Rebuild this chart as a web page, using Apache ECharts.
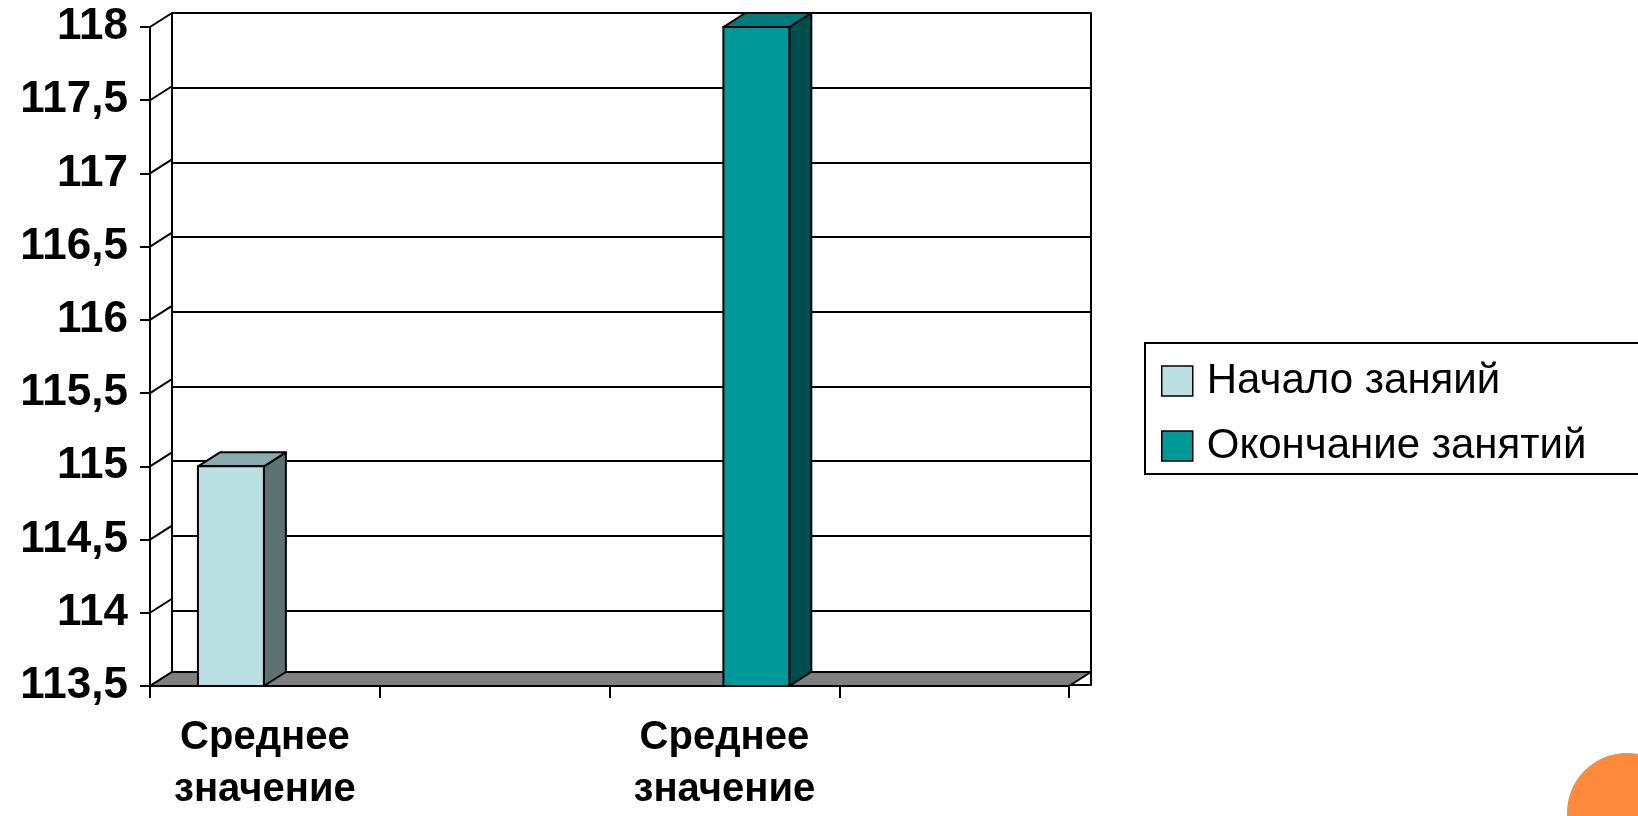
<!DOCTYPE html>
<html>
<head>
<meta charset="utf-8">
<script src="https://cdn.jsdelivr.net/npm/echarts@6/dist/echarts.min.js"></script>
<style>
html,body{margin:0;padding:0;background:#fff;}
#chart{width:1638px;height:816px;}
</style>
</head>
<body>
<div id="chart"></div>
<script>
// ---- data ----
const categories = ['Среднее значение', 'Среднее значение', 'Среднее значение', 'Среднее значение'];
const seriesNames = ['Начало заняий', 'Окончание занятий'];
const startValues = [115, null, null, null];
const endValues = [null, null, 118, null];
const yTicks = [113.5, 114, 114.5, 115, 115.5, 116, 116.5, 117, 117.5, 118];
const Y_MIN = 113.5, Y_MAX = 118, Y_STEP = 0.5;

// ---- style constants ----
const DX = 22, DY = -14;          // 3D depth offset
const BAR_RATIO = 0.287;          // bar width relative to category band
const FONT = "'Liberation Sans', Arial, sans-serif";
const styles = [
  {front: '#BBE0E3', side: '#5E7173', top: '#8AABAE'},
  {front: '#009999', side: '#004D4D', top: '#007A7A'}
];

function toData(arr) {
  const out = [];
  arr.forEach((v, i) => { if (v !== null) out.push([i, v]); });
  return out;
}

function barRenderer(sty, side) {
  return function (params, api) {
    const cat = api.value(0), v = api.value(1);
    const p = api.coord([cat, v]);
    const b = api.coord([cat, Y_MIN]);
    const band = api.size([1, 0])[0];
    const w = band * BAR_RATIO;
    const x0 = side < 0 ? p[0] - w - 1 : p[0] - 1;
    const x1 = x0 + w;
    const yt = p[1], yb = b[1];
    const st = {stroke: '#000', lineWidth: 2, lineJoin: 'round'};
    return {
      type: 'group',
      children: [
        {type: 'polygon', shape: {points: [[x1, yt], [x1 + DX, yt + DY], [x1 + DX, yb + DY], [x1, yb]]},
          style: Object.assign({fill: sty.side}, st)},
        {type: 'polygon', shape: {points: [[x0, yt], [x0 + DX, yt + DY], [x1 + DX, yt + DY], [x1, yt]]},
          style: Object.assign({fill: sty.top}, st)},
        {type: 'rect', shape: {x: x0, y: yt, width: w, height: yb - yt},
          style: Object.assign({fill: sty.front}, st)}
      ]
    };
  };
}

function floorRenderer(params, api) {
  const cs = params.coordSys;
  const xl = cs.x, xr = cs.x + cs.width;
  const yb = api.coord([0, Y_MIN])[1];
  const children = [];
  yTicks.forEach(t => {
    const y = api.coord([0, t])[1];
    children.push({type: 'line', shape: {x1: xl, y1: y, x2: xl + DX, y2: y + DY},
      style: {stroke: '#000', lineWidth: 2}});
  });
  children.push({type: 'polygon',
    shape: {points: [[xl, yb], [xl + DX, yb + DY], [xr + DX, yb + DY], [xr, yb]]},
    style: {fill: '#808080', stroke: '#000', lineWidth: 2, lineJoin: 'round'}});
  return {type: 'group', children};
}

const chart = echarts.init(document.getElementById('chart'), null, {renderer: 'canvas'});
const option = {
  backgroundColor: '#fff',
  animation: false,
  grid: [
    {left: 150, right: 569, top: 27, bottom: 117, containLabel: false},
    {left: 172, right: 547, top: 13, bottom: 131, containLabel: false}
  ],
  xAxis: [
    {
      type: 'category', gridIndex: 0, data: categories, boundaryGap: true,
      axisLine: {show: true, lineStyle: {color: '#000', width: 2}},
      axisTick: {show: true, interval: 0, length: 12, lineStyle: {color: '#000', width: 2}},
      axisLabel: {
        interval: 1, margin: 26, color: '#000', fontSize: 40, fontWeight: 'bold',
        fontFamily: FONT, lineHeight: 52,
        formatter: v => v.replace(' ', '\n')
      },
      splitLine: {show: false}
    },
    {type: 'category', gridIndex: 1, data: categories, show: false}
  ],
  yAxis: [
    {
      type: 'value', gridIndex: 0, min: Y_MIN, max: Y_MAX, interval: Y_STEP,
      axisLine: {show: true, lineStyle: {color: '#000', width: 2}},
      axisTick: {show: true, length: 10, lineStyle: {color: '#000', width: 2}},
      axisLabel: {
        margin: 22, color: '#000', fontSize: 44, fontWeight: 'bold', fontFamily: FONT,
        formatter: v => String(v).replace('.', ',')
      },
      splitLine: {show: false}
    },
    {
      type: 'value', gridIndex: 1, min: Y_MIN, max: Y_MAX, interval: Y_STEP,
      axisLine: {show: true, lineStyle: {color: '#000', width: 2}},
      axisTick: {show: false}, axisLabel: {show: false},
      splitLine: {show: true, lineStyle: {color: '#000', width: 2}}
    },
    {
      type: 'value', gridIndex: 1, position: 'right', min: Y_MIN, max: Y_MAX, interval: Y_STEP,
      axisLine: {show: true, lineStyle: {color: '#000', width: 2}},
      axisTick: {show: false}, axisLabel: {show: false}, splitLine: {show: false}
    }
  ],
  legend: {
    orient: 'vertical', left: 1145, top: 343,
    itemWidth: 31, itemHeight: 30, itemGap: 23,
    padding: [17, 60, 7, 16],
    borderColor: '#000', borderWidth: 2,
    textStyle: {fontSize: 42, fontFamily: FONT, color: '#000', lineHeight: 42, padding: [0, 0, 0, 9]},
    data: [
      {name: seriesNames[0], icon: 'rect', itemStyle: {color: styles[0].front, borderColor: '#000', borderWidth: 1.5}},
      {name: seriesNames[1], icon: 'rect', itemStyle: {color: styles[1].front, borderColor: '#000', borderWidth: 1.5}}
    ]
  },
  graphic: [
    {type: 'circle', shape: {cx: 1627, cy: 813, r: 60}, style: {fill: '#FD893A'}, z: 100}
  ],
  series: [
    {
      type: 'custom', name: 'floor', xAxisIndex: 0, yAxisIndex: 0, z: 1,
      renderItem: floorRenderer, data: [[0, Y_MIN]], silent: true
    },
    {
      type: 'custom', name: seriesNames[0], xAxisIndex: 0, yAxisIndex: 0, z: 3,
      itemStyle: {color: styles[0].front},
      renderItem: barRenderer(styles[0], -1), data: toData(startValues),
      encode: {x: 0, y: 1}
    },
    {
      type: 'custom', name: seriesNames[1], xAxisIndex: 0, yAxisIndex: 0, z: 3,
      itemStyle: {color: styles[1].front},
      renderItem: barRenderer(styles[1], 1), data: toData(endValues),
      encode: {x: 0, y: 1}
    }
  ]
};
chart.setOption(option);
</script>
</body>
</html>
